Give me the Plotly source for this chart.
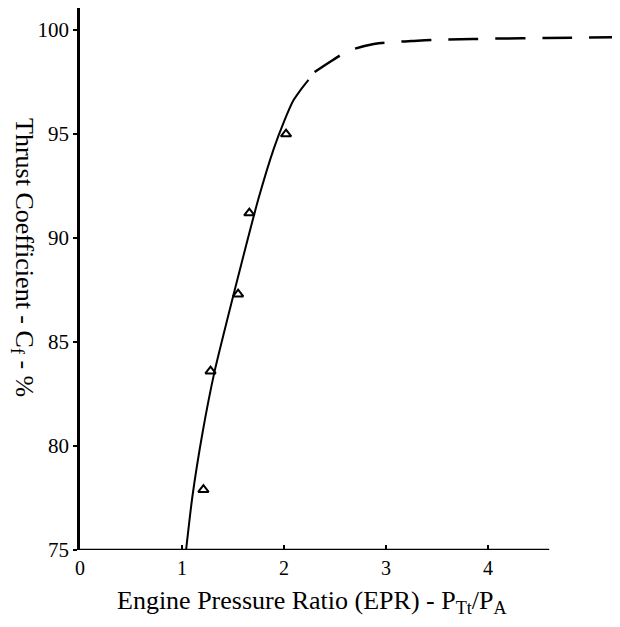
import plotly.graph_objects as go

# Measured data points (EPR, thrust coefficient %)
pts_x = [1.21, 1.28, 1.55, 1.66, 2.02]
pts_y = [77.9, 83.6, 87.3, 91.2, 95.0]

# Solid fitted curve
solid_x = [1.04, 1.10, 1.20, 1.32, 1.45, 1.60, 1.75, 1.90, 2.00, 2.09, 2.16, 2.24]
solid_y = [75.0, 77.5, 80.6, 83.6, 86.2, 89.1, 91.9, 94.3, 95.6, 96.6, 97.1, 97.6]

# Dashed extrapolated curve
dash_x = [2.30, 2.48, 2.63, 2.88, 3.06, 3.25, 3.44, 3.85, 4.56, 5.29]
dash_y = [97.98, 98.56, 98.99, 99.33, 99.42, 99.47, 99.52, 99.57, 99.62, 99.66]

x_ticks = [0, 1, 2, 3, 4]
y_ticks = [75, 80, 85, 90, 95, 100]

font = "Liberation Serif"

fig = go.Figure()
fig.add_trace(go.Scatter(x=solid_x, y=solid_y, mode="lines",
                         line=dict(color="black", width=2, shape="spline", smoothing=0.6),
                         showlegend=False))
fig.add_trace(go.Scatter(x=dash_x, y=dash_y, mode="lines",
                         line=dict(color="black", width=2.5, shape="spline", dash="30px,17px"),
                         showlegend=False))
fig.add_trace(go.Scatter(x=pts_x, y=pts_y, mode="markers",
                         marker=dict(symbol="triangle-up-open", size=9, color="black",
                                     line=dict(width=2, color="black")),
                         showlegend=False))

# bottom axis line (ends at 4.6)
fig.add_shape(type="line", x0=0, x1=4.6, y0=75, y1=75, xref="x", yref="y",
              line=dict(color="black", width=2.5))

# page body has an 8px default margin, so figure is 612x619 placed at (8,8)
fig.update_layout(
    width=612, height=619,
    margin=dict(l=72, r=0, t=0, b=77),
    paper_bgcolor="white", plot_bgcolor="white",
    font=dict(family=font, color="black", size=20),
    xaxis=dict(range=[0, 5.294], tickvals=x_ticks, ticktext=[str(v) for v in x_ticks],
               showgrid=False, zeroline=False, showline=False,
               ticks="inside", ticklen=5, tickwidth=1.5, tickcolor="black",
               ticklabelstandoff=4,
               tickfont=dict(family=font, size=20)),
    yaxis=dict(range=[75, 101.06], tickvals=y_ticks, ticktext=[str(v) for v in y_ticks],
               showgrid=False, zeroline=False, showline=True, linecolor="black", linewidth=2.5,
               ticks="outside", ticklen=4, tickwidth=1.5, tickcolor="black",
               tickfont=dict(family=font, size=21)),
    annotations=[
        dict(text="Engine Pressure Ratio (EPR) - P<sub>Tt</sub>/P<sub>A</sub>",
             xref="paper", yref="paper", x=(312 - 80) / 540, y=-(602 - 550) / 542,
             xanchor="center", yanchor="middle", showarrow=False,
             font=dict(family=font, size=26)),
        dict(text="Thrust Coefficient - C<sub>f</sub> - %",
             xref="paper", yref="paper", x=-(80 - 23) / 540, y=(550 - 257) / 542,
             xanchor="center", yanchor="middle", showarrow=False, textangle=90,
             font=dict(family=font, size=26)),
    ],
)

fig.write_html("out.html")
